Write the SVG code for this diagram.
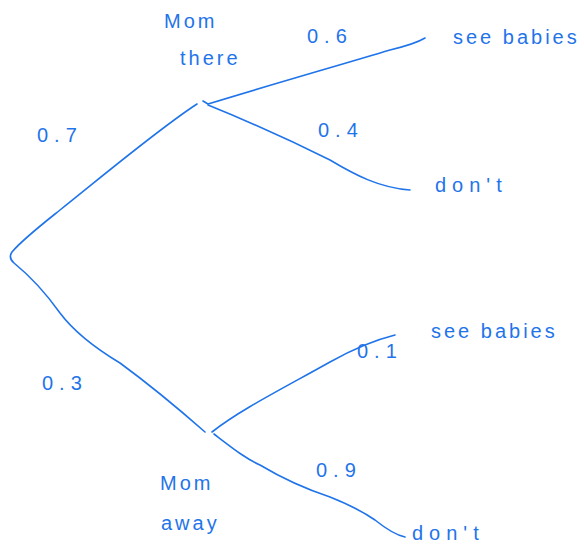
<svg xmlns="http://www.w3.org/2000/svg" width="584" height="559" viewBox="0 0 584 559">
<style>
.e{fill:none;stroke:#1f74ea;stroke-width:1.6;stroke-linecap:round;stroke-linejoin:round}
text{font-family:"Liberation Sans",Arial,sans-serif;fill:#1f74ea;font-size:20px}
.p{letter-spacing:6px}
.w{letter-spacing:3px}
</style>
<rect width="584" height="559" fill="#fff"/>
<g id="connectors">
<path class="e" d="M197,104 C160,128 110,170 60,210 C40,226 22,240 12,252 Q8,258 14,263 C30,276 45,292 60,313 C75,333 95,348 120,363 C150,385 180,410 205,432"/>
<path class="e" d="M203,101 L208,104 C270,85 340,65 390,50 Q415,44 425,38"/>
<path class="e" d="M208,105 C250,122 290,140 330,160 C355,175 380,188 410,190"/>
<path class="e" d="M212,432 C240,410 280,390 330,362 C355,348 375,340 395,335"/>
<path class="e" d="M214,434 C235,450 245,458 260,465 C280,477 300,487 330,497 C350,505 362,511 375,520 C385,528 395,535 405,537"/>
</g>
<g id="mom-there"><text class="w" x="164" y="28">Mom</text><text class="w" x="180" y="65">there</text></g>
<g id="mom-away"><text class="w" x="160" y="490">Mom</text><text class="w" x="161" y="530">away</text></g>
<g id="see-babies-1"><text class="w" x="453" y="44">see babies</text></g>
<g id="dont-1"><text class="p" x="435" y="192">don't</text></g>
<g id="see-babies-2"><text class="w" x="431" y="338">see babies</text></g>
<g id="dont-2"><text class="p" x="412" y="540">don't</text></g>
<g id="labels">
<text class="p" x="37" y="142">0.7</text>
<text class="p" x="42" y="390">0.3</text>
<text class="p" x="307" y="43">0.6</text>
<text class="p" x="318" y="137">0.4</text>
<text class="p" x="357" y="358">0.1</text>
<text class="p" x="316" y="477">0.9</text>
</g>
</svg>
